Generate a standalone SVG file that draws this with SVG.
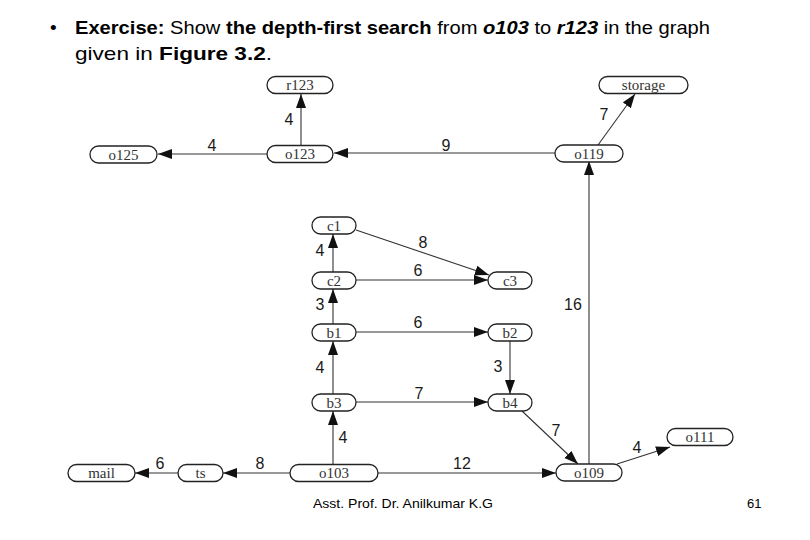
<svg xmlns="http://www.w3.org/2000/svg" width="810" height="540" viewBox="0 0 810 540">
<defs>
<marker id="ah" markerUnits="userSpaceOnUse" markerWidth="15" markerHeight="11" viewBox="0 0 15 11" refX="14" refY="5.5" orient="auto">
<path d="M0,0.5 L14,5.5 L0,10.5 z" fill="#111"/>
</marker>
<style>
.node rect{fill:#fff;stroke:#222;stroke-width:1.3}
.node text{font-family:"Liberation Serif",serif;font-size:15px;fill:#333;text-anchor:middle}
.edge{stroke:#333;stroke-width:1.1;fill:none;marker-end:url(#ah)}
.lbl{font-family:"Liberation Sans",Arial,sans-serif;font-size:16px;fill:#1a1a1a;text-anchor:middle}
.title{font-family:"Liberation Sans",Arial,sans-serif;font-size:19px;fill:#000}
.foot{font-family:"Liberation Sans",Arial,sans-serif;font-size:13px;fill:#000}
</style>
</defs>
<rect width="810" height="540" fill="#fff"/>
<g id="title">
<text class="title" x="50" y="34">•</text>
<text class="title" x="75" y="34" textLength="635" lengthAdjust="spacingAndGlyphs"><tspan font-weight="bold">Exercise:</tspan> Show <tspan font-weight="bold">the depth-first search</tspan> from <tspan font-weight="bold" font-style="italic">o103</tspan>  to <tspan font-weight="bold" font-style="italic">r123</tspan> in the graph</text>
<text class="title" x="75" y="60" textLength="197" lengthAdjust="spacingAndGlyphs">given in <tspan font-weight="bold">Figure 3.2</tspan>.</text>
</g>
<g id="connectors">
<line class="edge" x1="267" y1="154" x2="158" y2="154"/>
<line class="edge" x1="301" y1="146" x2="301" y2="94"/>
<line class="edge" x1="555" y1="153" x2="334" y2="153"/>
<line class="edge" x1="598" y1="145" x2="635" y2="94"/>
<line class="edge" x1="356" y1="230" x2="489" y2="275"/>
<line class="edge" x1="356" y1="280" x2="488" y2="280"/>
<line class="edge" x1="333" y1="272" x2="333" y2="234"/>
<line class="edge" x1="333" y1="324" x2="333" y2="289"/>
<line class="edge" x1="356" y1="332" x2="488" y2="332"/>
<line class="edge" x1="510" y1="341" x2="510" y2="394"/>
<line class="edge" x1="333" y1="394" x2="333" y2="341"/>
<line class="edge" x1="356" y1="402" x2="488" y2="402"/>
<line class="edge" x1="333" y1="464" x2="333" y2="411"/>
<line class="edge" x1="290" y1="473" x2="223" y2="473"/>
<line class="edge" x1="178" y1="473" x2="135" y2="473"/>
<line class="edge" x1="378" y1="473" x2="556" y2="473"/>
<line class="edge" x1="522" y1="411" x2="578" y2="464"/>
<line class="edge" x1="617" y1="464" x2="670" y2="447"/>
<line class="edge" x1="589" y1="464" x2="589" y2="161" stroke="#888"/>
</g>
<g id="edge-labels">
<text class="lbl" x="212" y="151">4</text>
<text class="lbl" x="289" y="125">4</text>
<text class="lbl" x="446" y="151">9</text>
<text class="lbl" x="604" y="120">7</text>
<text class="lbl" x="423" y="248">8</text>
<text class="lbl" x="418" y="276">6</text>
<text class="lbl" x="320" y="256">4</text>
<text class="lbl" x="320" y="310">3</text>
<text class="lbl" x="418" y="328">6</text>
<text class="lbl" x="498" y="372">3</text>
<text class="lbl" x="320" y="373">4</text>
<text class="lbl" x="419" y="399">7</text>
<text class="lbl" x="343" y="443">4</text>
<text class="lbl" x="160" y="469">6</text>
<text class="lbl" x="260" y="469">8</text>
<text class="lbl" x="462" y="469">12</text>
<text class="lbl" x="556" y="436">7</text>
<text class="lbl" x="637" y="453">4</text>
<text class="lbl" x="573" y="310">16</text>
</g>
<g id="r123" class="node"><rect x="267" y="76.5" width="66" height="17" rx="8.5"/><text x="300" y="90">r123</text></g>
<g id="o123" class="node"><rect x="267" y="145.5" width="66" height="17" rx="8.5"/><text x="300" y="159">o123</text></g>
<g id="o125" class="node"><rect x="90" y="146" width="67" height="17" rx="8.5"/><text x="123.5" y="159.5">o125</text></g>
<g id="storage" class="node"><rect x="599" y="76.5" width="89" height="17" rx="8.5"/><text x="643.5" y="89.5" font-size="16">storage</text></g>
<g id="o119" class="node"><rect x="555" y="145" width="68" height="17" rx="8.5"/><text x="589" y="158.5">o119</text></g>
<g id="c1" class="node"><rect x="312" y="217" width="44" height="17" rx="8.5"/><text x="334" y="230.5">c1</text></g>
<g id="c2" class="node"><rect x="312" y="272" width="44" height="17" rx="8.5"/><text x="334" y="285.5">c2</text></g>
<g id="c3" class="node"><rect x="488" y="272" width="44" height="17" rx="8.5"/><text x="510" y="285.5">c3</text></g>
<g id="b1" class="node"><rect x="312" y="324" width="44" height="17" rx="8.5"/><text x="334" y="337.5">b1</text></g>
<g id="b2" class="node"><rect x="488" y="324" width="44" height="17" rx="8.5"/><text x="510" y="337.5">b2</text></g>
<g id="b3" class="node"><rect x="312" y="394" width="44" height="17" rx="8.5"/><text x="334" y="407.5">b3</text></g>
<g id="b4" class="node"><rect x="488" y="394" width="44" height="17" rx="8.5"/><text x="510" y="407.5">b4</text></g>
<g id="o103" class="node"><rect x="290" y="464.5" width="88" height="17" rx="8.5"/><text x="334" y="478">o103</text></g>
<g id="ts" class="node"><rect x="178" y="464.5" width="45" height="17" rx="8.5"/><text x="200.5" y="478">ts</text></g>
<g id="mail" class="node"><rect x="68" y="464.5" width="67" height="17" rx="8.5"/><text x="101.5" y="478">mail</text></g>
<g id="o109" class="node"><rect x="556" y="464" width="66" height="17" rx="8.5"/><text x="589" y="477.5">o109</text></g>
<g id="o111" class="node"><rect x="667" y="428.5" width="66" height="17" rx="8.5"/><text x="700" y="442">o111</text></g>
<g id="footer">
<text class="foot" x="313" y="508" textLength="180" lengthAdjust="spacingAndGlyphs">Asst. Prof. Dr. Anilkumar K.G</text>
<text class="foot" x="747" y="508">61</text>
</g>
</svg>
